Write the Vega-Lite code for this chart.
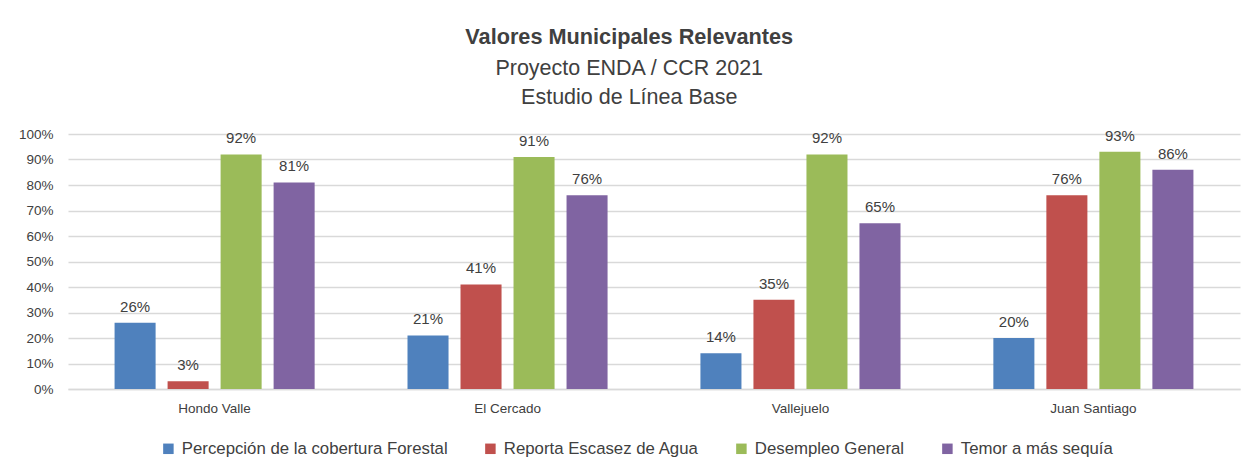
{
  "$schema": "https://vega.github.io/schema/vega-lite/v6.json",
  "autosize": {"type": "fit", "contains": "padding"},
  "width": 1255,
  "height": 469,
  "padding": {"left": 18, "right": 15, "top": 26, "bottom": 54},
  "background": "white",
  "title": {
    "text": "Valores Municipales Relevantes",
    "subtitle": ["Proyecto ENDA / CCR 2021", "Estudio de Línea Base"],
    "font": "Liberation Sans",
    "fontSize": 21.7,
    "fontWeight": "bold",
    "color": "#404040",
    "subtitleFont": "Liberation Sans",
    "subtitleFontSize": 21.5,
    "subtitleColor": "#404040",
    "subtitleLineHeight": 29,
    "subtitlePadding": 9,
    "anchor": "middle",
    "frame": "bounds",
    "offset": 19
  },
  "data": {
    "values": [
      {"municipio": "Hondo Valle", "serie": "Percepción de la cobertura Forestal", "valor": 0.26},
      {"municipio": "Hondo Valle", "serie": "Reporta Escasez de Agua", "valor": 0.03},
      {"municipio": "Hondo Valle", "serie": "Desempleo General", "valor": 0.92},
      {"municipio": "Hondo Valle", "serie": "Temor a más sequía", "valor": 0.81},
      {"municipio": "El Cercado", "serie": "Percepción de la cobertura Forestal", "valor": 0.21},
      {"municipio": "El Cercado", "serie": "Reporta Escasez de Agua", "valor": 0.41},
      {"municipio": "El Cercado", "serie": "Desempleo General", "valor": 0.91},
      {"municipio": "El Cercado", "serie": "Temor a más sequía", "valor": 0.76},
      {"municipio": "Vallejuelo", "serie": "Percepción de la cobertura Forestal", "valor": 0.14},
      {"municipio": "Vallejuelo", "serie": "Reporta Escasez de Agua", "valor": 0.35},
      {"municipio": "Vallejuelo", "serie": "Desempleo General", "valor": 0.92},
      {"municipio": "Vallejuelo", "serie": "Temor a más sequía", "valor": 0.65},
      {"municipio": "Juan Santiago", "serie": "Percepción de la cobertura Forestal", "valor": 0.20},
      {"municipio": "Juan Santiago", "serie": "Reporta Escasez de Agua", "valor": 0.76},
      {"municipio": "Juan Santiago", "serie": "Desempleo General", "valor": 0.93},
      {"municipio": "Juan Santiago", "serie": "Temor a más sequía", "valor": 0.86}
    ]
  },
  "encoding": {
    "x": {
      "field": "municipio",
      "type": "nominal",
      "sort": ["Hondo Valle", "El Cercado", "Vallejuelo", "Juan Santiago"],
      "scale": {"paddingInner": 0.317, "paddingOuter": 0.159},
      "axis": {
        "title": null,
        "labelAngle": 0,
        "labelFont": "Liberation Sans",
        "labelFontSize": 13.5,
        "labelColor": "#404040",
        "labelPadding": 12,
        "ticks": false,
        "domainColor": "#d9d9d9",
        "domainWidth": 1.5
      }
    },
    "xOffset": {
      "field": "serie",
      "type": "nominal",
      "sort": ["Percepción de la cobertura Forestal", "Reporta Escasez de Agua", "Desempleo General", "Temor a más sequía"],
      "scale": {"paddingInner": 0.226, "paddingOuter": 0}
    },
    "y": {
      "field": "valor",
      "type": "quantitative",
      "scale": {"domain": [0, 1]},
      "axis": {
        "title": null,
        "format": ".0%",
        "values": [0, 0.1, 0.2, 0.3, 0.4, 0.5, 0.6, 0.7, 0.8, 0.9, 1],
        "labelFont": "Liberation Sans",
        "labelFontSize": 13.5,
        "labelColor": "#404040",
        "labelPadding": 15,
        "ticks": false,
        "domain": false,
        "gridColor": "#d9d9d9",
        "gridWidth": 1.5
      }
    }
  },
  "layer": [
    {
      "mark": {"type": "bar"},
      "encoding": {
        "color": {
          "field": "serie",
          "type": "nominal",
          "scale": {
            "domain": ["Percepción de la cobertura Forestal", "Reporta Escasez de Agua", "Desempleo General", "Temor a más sequía"],
            "range": ["#4f81bd", "#c0504d", "#9bbb59", "#8064a2"]
          },
          "legend": {
            "title": null,
            "orient": "none",
            "legendX": 92,
            "legendY": 306,
            "direction": "horizontal",
            "symbolType": "square",
            "symbolSize": 110,
            "symbolStrokeWidth": 0,
            "labelFont": "Liberation Sans",
            "labelFontSize": 16.8,
            "labelColor": "#404040",
            "labelLimit": 400,
            "columnPadding": 34,
            "labelOffset": 5
          }
        }
      }
    },
    {
      "mark": {
        "type": "text",
        "baseline": "alphabetic",
        "dy": -11,
        "font": "Liberation Sans",
        "fontSize": 15,
        "color": "#404040"
      },
      "encoding": {
        "text": {"field": "valor", "type": "quantitative", "format": ".0%"}
      }
    }
  ],
  "config": {
    "view": {"stroke": null}
  }
}
